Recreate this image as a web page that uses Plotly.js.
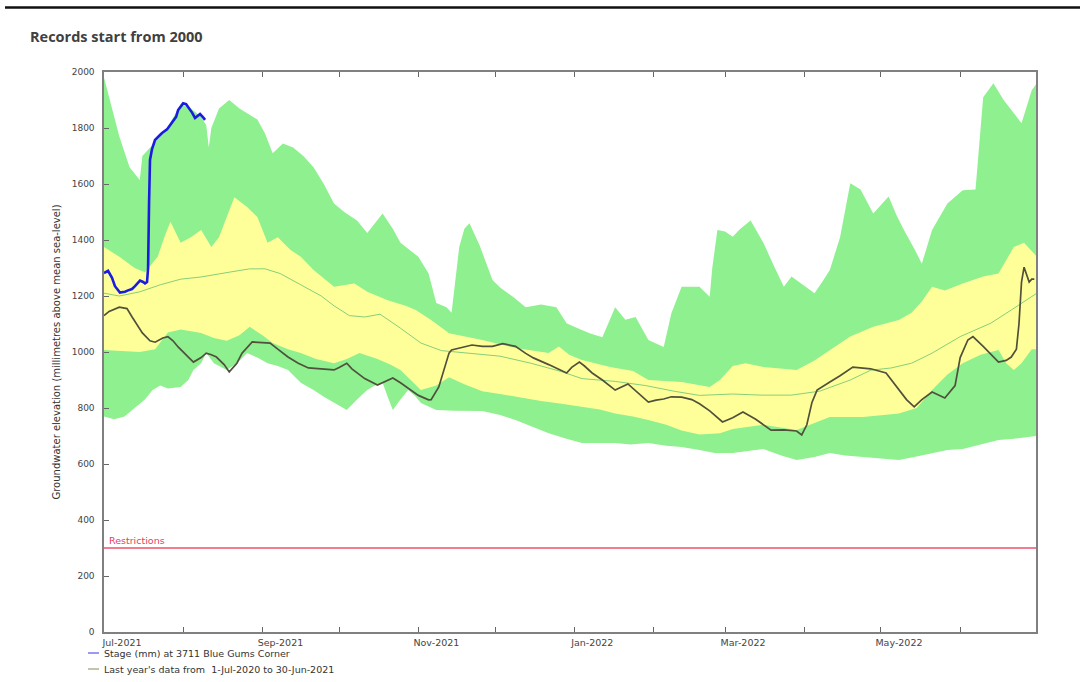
<!DOCTYPE html>
<html>
<head>
<meta charset="utf-8">
<script src="https://cdn.plot.ly/plotly-3.0.1.min.js"></script>
<style>html,body{margin:0;padding:0;background:#fff;}#chart{width:1080px;height:682px;}</style>
</head>
<body>
<div id="chart"></div>
<script>
// ---- Data ----
const titleText = 'Records start from 2000';
const yTitleText = 'Groundwater elevation (millimetres above mean sea-level)';
const stageName = 'Stage (mm) at 3711 Blue Gums Corner';
const lastYearName = "Last year's data from  1-Jul-2020 to 30-Jun-2021";
const restrictionLabel = 'Restrictions';
const restrictionLevel = 300;

// Historic maximum envelope (upper edge of green band)
const maxDates = ['2021-07-01','2021-07-04','2021-07-07','2021-07-11','2021-07-15','2021-07-16','2021-07-19','2021-07-23','2021-07-27','2021-07-31',
'2021-08-04','2021-08-08','2021-08-10','2021-08-11','2021-08-12','2021-08-15','2021-08-19','2021-08-23','2021-08-30',
'2021-09-02','2021-09-05','2021-09-09','2021-09-13','2021-09-17','2021-09-21','2021-09-25','2021-09-29',
'2021-10-03','2021-10-08','2021-10-12','2021-10-18','2021-10-22','2021-10-25',
'2021-11-01','2021-11-05','2021-11-08','2021-11-12','2021-11-14','2021-11-17','2021-11-19','2021-11-21','2021-11-25','2021-11-30',
'2021-12-03','2021-12-08','2021-12-13','2021-12-19','2021-12-25','2021-12-29',
'2022-01-01','2022-01-07','2022-01-12','2022-01-17','2022-01-21','2022-01-25','2022-01-30',
'2022-02-05','2022-02-08','2022-02-12','2022-02-19','2022-02-23','2022-02-24','2022-02-26',
'2022-03-01','2022-03-04','2022-03-07','2022-03-11','2022-03-16','2022-03-20','2022-03-24','2022-03-27','2022-03-29',
'2022-04-02','2022-04-05','2022-04-08','2022-04-11','2022-04-15','2022-04-19','2022-04-23','2022-04-28',
'2022-05-04','2022-05-07','2022-05-10','2022-05-14','2022-05-17','2022-05-21','2022-05-27',
'2022-06-02','2022-06-07','2022-06-10','2022-06-14','2022-06-18','2022-06-22','2022-06-25','2022-06-29','2022-07-01'];
const maxValues = [1980,1880,1770,1660,1614,1700,1730,1770,1820,1885,
1870,1840,1810,1730,1800,1870,1900,1870,1830,
1780,1710,1745,1730,1700,1660,1600,1530,
1500,1470,1425,1495,1440,1390,
1340,1280,1175,1160,1140,1375,1440,1460,1380,1257,
1230,1197,1160,1170,1160,1103,
1090,1067,1053,1160,1115,1125,1043,
1018,1138,1233,1233,1197,1300,1436,
1430,1412,1440,1470,1390,1310,1233,1270,1257,
1230,1210,1250,1293,1410,1603,1580,1495,
1555,1490,1436,1370,1315,1436,1530,
1578,1580,1910,1960,1900,1853,1817,1935,1960];

// Historic minimum envelope (lower edge of green band)
const minDates = ['2021-07-01','2021-07-05','2021-07-09','2021-07-12','2021-07-17','2021-07-20','2021-07-23','2021-07-26','2021-07-31',
'2021-08-03','2021-08-05','2021-08-08','2021-08-10','2021-08-13','2021-08-18','2021-08-22','2021-08-26','2021-08-30',
'2021-09-03','2021-09-07','2021-09-11','2021-09-16','2021-09-21','2021-09-25','2021-09-29',
'2021-10-04','2021-10-08','2021-10-12','2021-10-15','2021-10-18','2021-10-20','2021-10-22','2021-10-25','2021-10-28','2021-10-31',
'2021-11-02','2021-11-08','2021-11-15','2021-11-26',
'2021-12-03','2021-12-09','2021-12-15','2021-12-22','2021-12-29',
'2022-01-04','2022-01-11','2022-01-17','2022-01-23','2022-01-30',
'2022-02-06','2022-02-12','2022-02-19','2022-02-25',
'2022-03-04','2022-03-09','2022-03-16','2022-03-23','2022-03-29',
'2022-04-05','2022-04-11','2022-04-17','2022-04-24',
'2022-05-01','2022-05-08','2022-05-14','2022-05-21','2022-05-27',
'2022-06-02','2022-06-09','2022-06-16','2022-06-22','2022-06-29','2022-07-01'];
const minValues = [770,760,770,793,830,864,880,870,875,
900,936,960,996,960,936,960,996,980,
960,950,936,890,864,840,818,
793,830,864,880,890,840,793,830,864,840,
818,793,790,789,
775,757,735,710,690,
675,675,675,670,675,
665,661,650,639,
639,645,654,630,614,
625,639,630,625,
620,614,625,639,650,
654,670,686,690,696,700];

// Upper quartile (upper edge of yellow band)
const upperDates = ['2021-07-01','2021-07-07','2021-07-13','2021-07-17','2021-07-22','2021-07-25','2021-07-27','2021-07-31',
'2021-08-04','2021-08-08','2021-08-12','2021-08-15','2021-08-21','2021-08-26','2021-08-30',
'2021-09-03','2021-09-07','2021-09-12','2021-09-16','2021-09-21','2021-09-29',
'2021-10-07','2021-10-12','2021-10-20','2021-10-27','2021-10-31',
'2021-11-06','2021-11-13','2021-11-26',
'2021-12-09','2021-12-22','2021-12-26','2021-12-30',
'2022-01-04','2022-01-15','2022-01-24','2022-01-30',
'2022-02-12','2022-02-23','2022-02-27',
'2022-03-04','2022-03-09','2022-03-16','2022-03-23','2022-03-29',
'2022-04-05','2022-04-11','2022-04-19','2022-04-28',
'2022-05-08','2022-05-13','2022-05-17','2022-05-21','2022-05-26',
'2022-06-02','2022-06-10','2022-06-16','2022-06-19','2022-06-22','2022-06-26','2022-07-01'];
const upperValues = [1375,1340,1300,1285,1340,1420,1465,1390,
1410,1436,1375,1410,1553,1518,1482,
1390,1410,1364,1340,1293,1233,
1245,1215,1185,1165,1150,
1114,1067,1043,
1014,996,1020,990,
971,946,932,900,
893,875,900,
950,960,946,940,936,
970,1007,1055,1090,
1114,1140,1180,1233,1220,
1245,1270,1280,1330,1375,1390,1340];

// Lower quartile (lower edge of yellow band)
const lowerDates = ['2021-07-01','2021-07-07','2021-07-15','2021-07-21','2021-07-26','2021-07-31',
'2021-08-08','2021-08-13','2021-08-18','2021-08-23','2021-08-27',
'2021-09-01','2021-09-05','2021-09-11','2021-09-16','2021-09-22','2021-09-29',
'2021-10-04','2021-10-09','2021-10-16','2021-10-21','2021-10-25','2021-10-29',
'2021-11-02','2021-11-08','2021-11-13','2021-11-19','2021-11-26',
'2021-12-03','2021-12-09','2021-12-19','2021-12-27',
'2022-01-04','2022-01-11','2022-01-17','2022-01-24','2022-01-30',
'2022-02-06','2022-02-12','2022-02-19','2022-02-27',
'2022-03-04','2022-03-16','2022-03-29',
'2022-04-11','2022-04-24',
'2022-05-08','2022-05-15','2022-05-21','2022-05-27',
'2022-06-02','2022-06-09','2022-06-16','2022-06-19','2022-06-22','2022-06-25','2022-06-29','2022-07-01'];
const lowerValues = [1007,1005,1000,1010,1070,1080,
1068,1050,1040,1060,1090,
1060,1032,1010,996,975,960,
975,996,975,955,936,900,
864,880,910,885,860,
850,840,825,815,
804,795,780,770,757,
740,720,705,710,
725,740,721,
768,768,
780,800,864,920,
960,990,1007,960,936,960,1010,1010];

// Median (thin green line)
const medianDates = ['2021-07-01','2021-07-07','2021-07-15','2021-07-23','2021-07-31','2021-08-08','2021-08-19','2021-08-27',
'2021-09-02','2021-09-08','2021-09-16','2021-09-24','2021-09-29','2021-10-05','2021-10-11','2021-10-17','2021-10-25',
'2021-11-02','2021-11-10','2021-11-21','2021-12-03','2021-12-15','2021-12-27',
'2022-01-04','2022-01-17','2022-01-29','2022-02-09','2022-02-19','2022-03-04','2022-03-15','2022-03-27',
'2022-04-07','2022-04-19','2022-04-27','2022-05-05','2022-05-13','2022-05-21',
'2022-06-01','2022-06-13','2022-06-21','2022-06-25','2022-07-01'];
const medianValues = [1210,1200,1215,1240,1260,1268,1285,1297,
1297,1280,1240,1200,1165,1130,1125,1135,1085,
1032,1005,996,985,960,930,
905,895,880,860,845,850,846,846,
860,900,935,943,960,996,
1055,1103,1150,1175,1210];

// Last year's data (dark line)
const lastYearDates = ['2021-07-01','2021-07-03','2021-07-07','2021-07-10','2021-07-12','2021-07-16','2021-07-19','2021-07-21','2021-07-24','2021-07-26','2021-07-28','2021-07-30',
'2021-08-03','2021-08-05','2021-08-08','2021-08-10','2021-08-12','2021-08-14','2021-08-17','2021-08-19','2021-08-22','2021-08-24','2021-08-28',
'2021-09-01','2021-09-04','2021-09-07','2021-09-11','2021-09-15','2021-09-19','2021-09-24','2021-09-29',
'2021-10-01','2021-10-04','2021-10-06','2021-10-08','2021-10-11','2021-10-16','2021-10-19','2021-10-22','2021-10-25','2021-10-29',
'2021-11-01','2021-11-05','2021-11-06','2021-11-09','2021-11-11','2021-11-13','2021-11-14','2021-11-18','2021-11-22','2021-11-26','2021-11-30',
'2021-12-04','2021-12-09','2021-12-13','2021-12-16','2021-12-22','2021-12-29','2021-12-31',
'2022-01-03','2022-01-05','2022-01-08','2022-01-12','2022-01-17','2022-01-22','2022-01-26','2022-01-30',
'2022-02-02','2022-02-05','2022-02-08','2022-02-12','2022-02-16','2022-02-19','2022-02-23','2022-02-28',
'2022-03-04','2022-03-08','2022-03-13','2022-03-19','2022-03-24','2022-03-29','2022-03-31',
'2022-04-02','2022-04-04','2022-04-06','2022-04-11','2022-04-15','2022-04-20','2022-04-27',
'2022-05-03','2022-05-08','2022-05-11','2022-05-14','2022-05-17','2022-05-21','2022-05-26','2022-05-30',
'2022-06-01','2022-06-04','2022-06-06','2022-06-10','2022-06-16','2022-06-19','2022-06-21','2022-06-23','2022-06-24','2022-06-25','2022-06-26','2022-06-28','2022-06-29','2022-06-30'];
const lastYearValues = [1130,1145,1160,1155,1125,1068,1040,1035,1050,1055,1040,1018,
982,964,980,996,990,982,955,929,960,996,1036,
1035,1032,1010,982,960,943,940,936,
945,960,940,925,905,882,895,907,890,864,
845,829,830,875,940,996,1007,1015,1025,1020,1020,
1030,1020,995,979,955,925,945,
964,950,925,900,864,886,855,821,
828,832,840,839,830,815,790,750,
765,786,760,721,722,718,704,
740,820,864,893,915,946,940,
925,864,830,804,830,857,836,880,
980,1043,1055,1020,964,970,982,1010,1100,1250,1303,1250,1260,1260];

// This year's stage (blue line)
const stageDates = ['2021-07-01 00:00','2021-07-02 14:00','2021-07-04 03:00','2021-07-05 07:00','2021-07-07 06:00','2021-07-09 05:00','2021-07-10 10:00',
'2021-07-11 23:00','2021-07-13 03:00','2021-07-15 02:00','2021-07-16 07:00','2021-07-17 01:00','2021-07-17 20:00','2021-07-18 06:00',
'2021-07-18 15:00','2021-07-19 00:00','2021-07-19 19:00','2021-07-20 23:00','2021-07-22 22:00','2021-07-23 17:00','2021-07-25 16:00',
'2021-07-27 15:00','2021-07-29 05:00','2021-07-30 00:00','2021-07-31 23:00','2021-08-02 03:00','2021-08-02 22:00','2021-08-04 11:00',
'2021-08-05 15:00','2021-08-06 20:00','2021-08-07 14:00','2021-08-08 19:00','2021-08-09 13:00'];
const stageValues = [1282,1290,1265,1235,1212,1215,1220,
1225,1235,1255,1250,1245,1250,1300,
1530,1686,1725,1757,1775,1782,1795,
1818,1840,1864,1888,1885,1875,1855,
1836,1845,1850,1838,1829];

// ---- Chart ----
const green = '#8ff08f';
const yellow = '#ffff99';
const stageColor = '#1c1ce0';
const lastYearColor = '#50503c';
const traces = [
  {x: minDates, y: minValues, type: 'scatter', mode: 'lines', line: {width: 0, color: green}, showlegend: false, hoverinfo: 'skip'},
  {x: maxDates, y: maxValues, type: 'scatter', mode: 'lines', line: {width: 0, color: green}, fill: 'tonexty', fillcolor: green, showlegend: false, hoverinfo: 'skip'},
  {x: lowerDates, y: lowerValues, type: 'scatter', mode: 'lines', line: {width: 0, color: yellow}, showlegend: false, hoverinfo: 'skip'},
  {x: upperDates, y: upperValues, type: 'scatter', mode: 'lines', line: {width: 0, color: yellow}, fill: 'tonexty', fillcolor: yellow, showlegend: false, hoverinfo: 'skip'},
  {x: medianDates, y: medianValues, type: 'scatter', mode: 'lines', line: {width: 1, color: '#86cf7a'}, showlegend: false, hoverinfo: 'skip'},
  {x: lastYearDates, y: lastYearValues, type: 'scatter', mode: 'lines', name: lastYearName, showlegend: false, line: {width: 1.7, color: lastYearColor}},
  {x: stageDates, y: stageValues, type: 'scatter', mode: 'lines', name: stageName, showlegend: false, line: {width: 2.6, color: stageColor}}
];

// plot area in pixels: x 104..1036, y 72..632
const PL = 104, PW = 932, PB = 632, PH = 560;
const px = v => (v - PL) / PW;
const py = v => (PB - v) / PH;

const axisFont = {family: 'DejaVu Sans', size: 9, color: '#444'};
const legendFont = {family: 'DejaVu Sans', size: 9.5, color: '#333'};
const legendRows = [
  {name: stageName, color: '#3434e0', y: 653},
  {name: lastYearName, color: '#8a8a5a', y: 669}
];

const shapes = [
  {type: 'line', xref: 'paper', yref: 'y', x0: 0, x1: 1, y0: restrictionLevel, y1: restrictionLevel, line: {color: '#f0506e', width: 1.6}},
  {type: 'line', xref: 'paper', yref: 'paper', x0: px(5), x1: px(1082), y0: py(7.5), y1: py(7.5), line: {color: '#111', width: 2.5}}
];
const annotations = [
  {text: restrictionLabel, xref: 'paper', yref: 'y', x: px(107), y: restrictionLevel, xanchor: 'left', yanchor: 'bottom',
   showarrow: false, font: {family: 'DejaVu Sans', size: 9.5, color: '#e8405a'}}
];
legendRows.forEach(r => {
  shapes.push({type: 'line', xref: 'paper', yref: 'paper', x0: px(88), x1: px(99), y0: py(r.y), y1: py(r.y), line: {color: r.color, width: 1}});
  annotations.push({text: r.name, xref: 'paper', yref: 'paper', x: px(102), y: py(r.y), xanchor: 'left', yanchor: 'middle',
                    showarrow: false, font: legendFont});
});

const layout = {
  width: 1080, height: 682,
  margin: {l: 104, r: 44, t: 72, b: 50},
  paper_bgcolor: '#fff', plot_bgcolor: '#fff',
  font: axisFont,
  showlegend: false,
  title: {text: '<b>' + titleText + '</b>', x: 30/1080, xref: 'container', xanchor: 'left', y: 1 - 37/682, yref: 'container', yanchor: 'middle',
          font: {family: 'Open Sans', size: 14.5, color: '#404040'}},
  xaxis: {
    type: 'date', range: ['2021-07-01', '2022-06-30 16:00'],
    tick0: '2021-07-01', dtick: 'M2', tickformat: '%b-%Y',
    ticks: 'inside', ticklen: 5, tickcolor: '#666', tickwidth: 1,
    minor: {dtick: 'M1', ticks: 'inside', ticklen: 5, tickcolor: '#666', showgrid: false},
    ticklabelshift: 18, ticklabelstandoff: 1,
    showgrid: false, zeroline: false, showline: true, linecolor: '#808080', linewidth: 1.8, mirror: 'ticks',
    tickfont: {family: 'DejaVu Sans', size: 9.5, color: '#444'}
  },
  yaxis: {
    range: [0, 2000], dtick: 200, ticks: 'inside', ticklen: 5, tickcolor: '#666',
    showgrid: false, zeroline: false, showline: true, linecolor: '#808080', linewidth: 1.6, mirror: true,
    ticklabelstandoff: 6, tickfont: axisFont,
    title: {text: yTitleText, font: {family: 'DejaVu Sans', size: 10, color: '#333'}, standoff: 9}
  },
  shapes: shapes,
  annotations: annotations
};

Plotly.newPlot('chart', traces, layout, {staticPlot: true, displayModeBar: false});
</script>
</body>
</html>
